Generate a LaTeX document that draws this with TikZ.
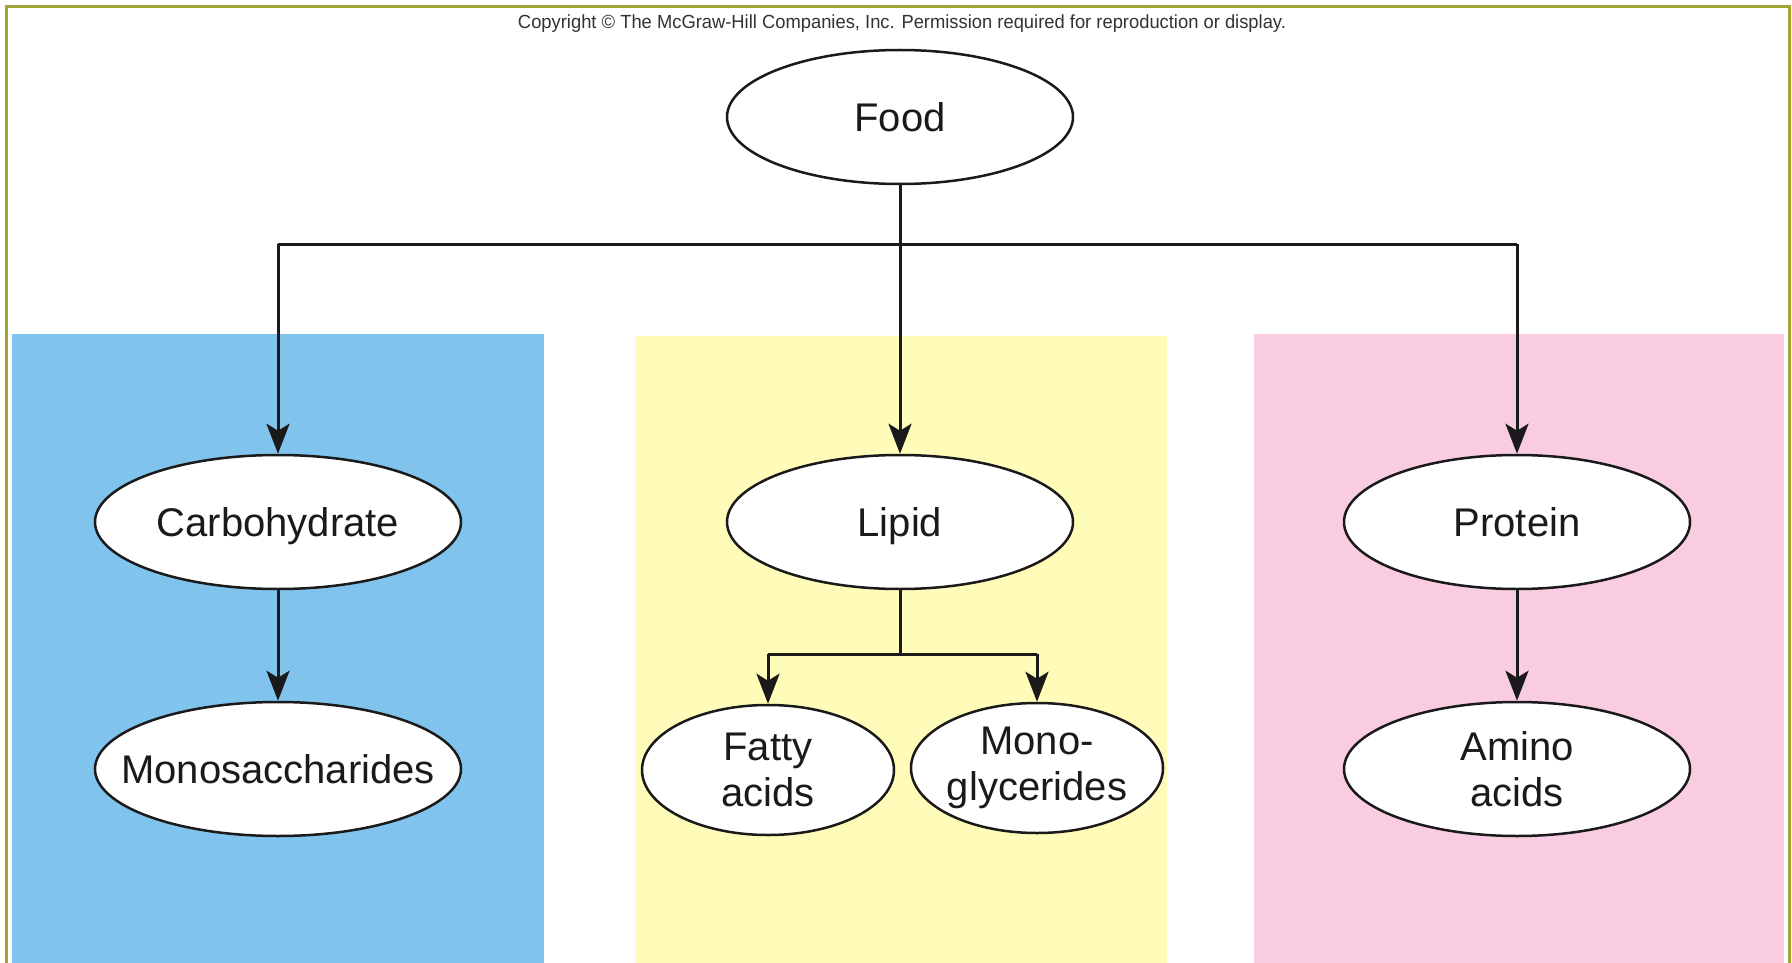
\documentclass[tikz,border=0pt]{standalone}
\usepackage{fontspec}
\setmainfont{Liberation Sans}
\usetikzlibrary{shapes.geometric,arrows.meta}
\definecolor{frameolive}{HTML}{A3A436}
\definecolor{panelblue}{HTML}{80C3EC}
\definecolor{panelyellow}{HTML}{FFFBB8}
\definecolor{panelpink}{HTML}{F9CCE1}
\definecolor{inkblack}{HTML}{1A1A1A}
\definecolor{copygray}{HTML}{333333}
\tikzset{
  oval/.style={ellipse, draw=inkblack, line width=2.5pt, fill=white, inner sep=-30pt,
    text=inkblack, align=center, font=\fontsize{40}{46}\selectfont},
  bigoval/.style={oval, minimum width=346pt, minimum height=134pt},
  smalloval/.style={oval, minimum width=252pt, minimum height=130pt},
  oneline/.style={text height=29pt, text depth=0pt},
  link/.style={draw=inkblack, line width=3pt},
  arrowlink/.style={link, -{Stealth[length=30pt,width=23pt,inset=7pt]}}
}
\begin{document}
\begin{tikzpicture}[x=1pt,y=-1pt]
\useasboundingbox (0,0) rectangle (1792,963);
\fill[white] (0,0) rectangle (1792,963);
% panels
\fill[panelblue] (12,334) rectangle (544,963);
\fill[panelyellow] (635,336) rectangle (1167,963);
\fill[panelpink] (1254,334) rectangle (1784,963);
% frame
\draw[frameolive, line width=3pt] (6.5,963) -- (6.5,6.5) -- (1789,6.5) -- (1789,963);
% copyright
\node[text=copygray, inner sep=0pt] (copy) at (902,24)
  {\resizebox{768pt}{\height}{\fontsize{19}{21}\selectfont Copyright \textcopyright{} The McGraw-Hill Companies, Inc. Permission required for reproduction or display.}};
% nodes
\node[bigoval, oneline] (food) at (900,117) {Food};
\node[bigoval, oneline, minimum width=366pt] (carb) at (278,522) {Carbohydrate};
\node[bigoval, oneline, minimum width=366pt] (mono) at (278,769) {Monosaccharides};
\node[bigoval, oneline] (lipid) at (900,522) {Lipid};
\node[smalloval] (fatty) at (768,770) {Fatty\\acids};
\node[smalloval] (glyc) at (1037,768) {Mono-\\glycerides};
\node[bigoval, oneline] (protein) at (1517,522) {Protein};
\node[bigoval] (amino) at (1517,769) {Amino\\acids};
% junction coordinates
\coordinate (jfood) at (900,244);
\coordinate (jleft) at (278,244);
\coordinate (jright) at (1517,244);
\coordinate (jlipid) at (900,654);
\coordinate (jfa) at (768,654);
\coordinate (jmg) at (1037,654);
% connectors
\draw[link] (food.south) -- (jfood);
\draw[link] (jleft) -- (jright);
\draw[arrowlink] (jfood) -- (lipid.north);
\draw[arrowlink] (jleft) -- (carb.north);
\draw[arrowlink] (jright) -- (protein.north);
\draw[arrowlink] (carb.south) -- (mono.north);
\draw[arrowlink] (protein.south) -- (amino.north);
\draw[link] (lipid.south) -- (jlipid);
\draw[link] (jfa) -- (jmg);
\draw[arrowlink] (jfa) -- (fatty.north);
\draw[arrowlink] (jmg) -- (glyc.north);
\end{tikzpicture}
\end{document}
